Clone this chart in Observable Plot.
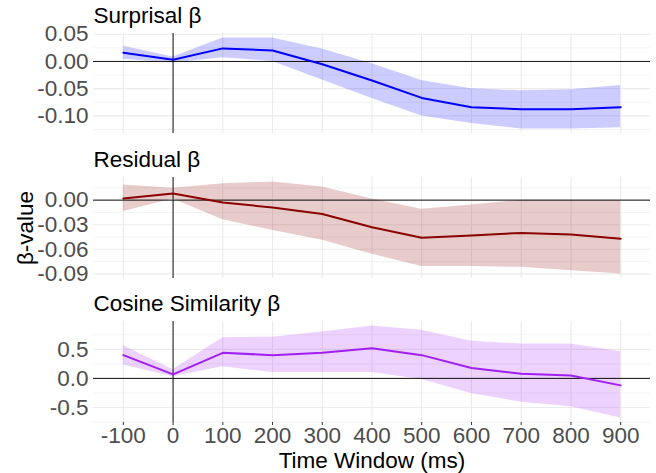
<!DOCTYPE html>
<html><head><meta charset="utf-8">
<script src="https://cdn.jsdelivr.net/npm/d3@7"></script>
<script src="https://cdn.jsdelivr.net/npm/@observablehq/plot@0.6"></script>
<style>
body{margin:0;background:#fff;}
#chart{position:relative;width:656px;height:473px;font-family:"Liberation Sans",Arial,sans-serif;background:#fff;}
#chart svg{position:absolute;left:0;}
</style></head><body><div id="chart"></div>
<script>
const timeWindows = [-100, 0, 100, 200, 300, 400, 500, 600, 700, 800, 900];

const surprisalBeta  = [0.016, 0.003, 0.024, 0.020, -0.005, -0.035, -0.067, -0.084, -0.088, -0.088, -0.084];
const surprisalLower = [0.004, -0.003, 0.007, 0.000, -0.034, -0.068, -0.100, -0.114, -0.124, -0.124, -0.122];
const surprisalUpper = [0.028, 0.008, 0.043, 0.043, 0.023, -0.004, -0.035, -0.050, -0.054, -0.052, -0.044];

const residualBeta  = [0.002, 0.008, -0.003, -0.009, -0.017, -0.033, -0.046, -0.043, -0.040, -0.042, -0.047];
const residualLower = [-0.014, 0.0015, -0.024, -0.037, -0.049, -0.066, -0.081, -0.081, -0.082, -0.086, -0.090];
const residualUpper = [0.0185, 0.0145, 0.020, 0.022, 0.016, 0.0015, -0.011, -0.006, 0.000, 0.000, 0.000];

const cosineBeta  = [0.40, 0.07, 0.44, 0.40, 0.44, 0.52, 0.40, 0.18, 0.08, 0.05, -0.12];
const cosineLower = [0.23, 0.03, 0.20, 0.10, 0.10, 0.10, -0.02, -0.26, -0.41, -0.49, -0.68];
const cosineUpper = [0.56, 0.15, 0.70, 0.71, 0.80, 0.90, 0.83, 0.64, 0.59, 0.59, 0.46];

const xTicks = [-100, 0, 100, 200, 300, 400, 500, 600, 700, 800, 900];
const surprisalTicks = [0.05, 0.00, -0.05, -0.10];
const surprisalMinor = [0.025, -0.025, -0.075, -0.125];
const residualTicks = [0.00, -0.03, -0.06, -0.09];
const residualMinor = [0.015, -0.015, -0.045, -0.075];
const cosineTicks = [0.5, 0.0, -0.5];
const cosineMinor = [0.75, 0.25, -0.25, -0.75];

const titles = ["Surprisal β", "Residual β", "Cosine Similarity β"];
const yLabel = "β-value";
const xLabel = "Time Window (ms)";

const FONT = '"Liberation Sans", Arial, sans-serif';
const FS = 22.5;

function panel(o) {
  const data = timeWindows.map((t, i) => ({t, b: o.beta[i], lo: o.lower[i], hi: o.upper[i]}));
  const mn = d3.min(o.lower), mx = d3.max(o.upper), pad = 0.05 * (mx - mn);
  const marks = [
    Plot.ruleY(o.minor, {stroke: "#ebebeb", strokeWidth: 0.6}),
    Plot.ruleY(o.ticks, {stroke: "#ebebeb", strokeWidth: 1.1}),
    Plot.ruleX(xTicks, {stroke: "#ebebeb", strokeWidth: 1.1}),
    Plot.areaY(data, {x: "t", y1: "lo", y2: "hi", fill: o.color, fillOpacity: 0.2}),
    Plot.ruleY([0], {stroke: "#111", strokeWidth: 1}),
    Plot.ruleX([0], {stroke: "#111", strokeWidth: 1}),
    Plot.line(data, {x: "t", y: "b", stroke: o.color, strokeWidth: 2}),
    Plot.axisY({ticks: o.ticks, tickSize: 0, tickPadding: 5, tickFormat: o.fmt, fontSize: FS, fill: "#4d4d4d", label: null}),
    Plot.text([o.title], {text: d => d, frameAnchor: "top-left", textAnchor: "start", lineAnchor: "middle", dy: -17.5, fill: "black", fontSize: FS})
  ];
  if (o.extra) marks.push(...o.extra);
  const p = Plot.plot({
    width: 656, height: o.height,
    marginLeft: 93, marginRight: 6, marginTop: o.marginTop, marginBottom: o.marginBottom,
    x: {domain: [-160, 960], axis: null},
    y: {domain: [mn - pad, mx + pad]},
    style: {fontFamily: FONT, fontSize: FS + "px", color: "#4d4d4d", background: "transparent", overflow: "visible"},
    marks
  });
  p.style.top = o.top + "px";
  return p;
}

const chart = document.getElementById("chart");
chart.appendChild(panel({
  title: titles[0], beta: surprisalBeta, lower: surprisalLower, upper: surprisalUpper,
  color: "#0000ff", ticks: surprisalTicks, minor: surprisalMinor, fmt: d => d.toFixed(2),
  top: 0, height: 140, marginTop: 33, marginBottom: 7
}));
chart.appendChild(panel({
  title: titles[1], beta: residualBeta, lower: residualLower, upper: residualUpper,
  color: "#8b0000", ticks: residualTicks, minor: residualMinor, fmt: d => d.toFixed(2),
  top: 140, height: 145, marginTop: 37, marginBottom: 7,
  extra: [Plot.text([yLabel], {text: d => d, frameAnchor: "left", textAnchor: "middle", lineAnchor: "middle", rotate: -90, dx: -68, fill: "black", fontSize: FS})]
}));
chart.appendChild(panel({
  title: titles[2], beta: cosineBeta, lower: cosineLower, upper: cosineUpper,
  color: "#a020f0", ticks: cosineTicks, minor: cosineMinor, fmt: d => d.toFixed(1),
  top: 285, height: 188, marginTop: 36, marginBottom: 51,
  extra: [
    Plot.axisX({ticks: xTicks, tickSize: 3, tickPadding: 1.5, tickFormat: d => String(d), fontSize: FS, stroke: "#333", fill: "#4d4d4d", label: null}),
    Plot.text([xLabel], {text: d => d, frameAnchor: "bottom", textAnchor: "middle", lineAnchor: "middle", dy: 38.5, fill: "black", fontSize: FS})
  ]
}));
</script></body></html>
